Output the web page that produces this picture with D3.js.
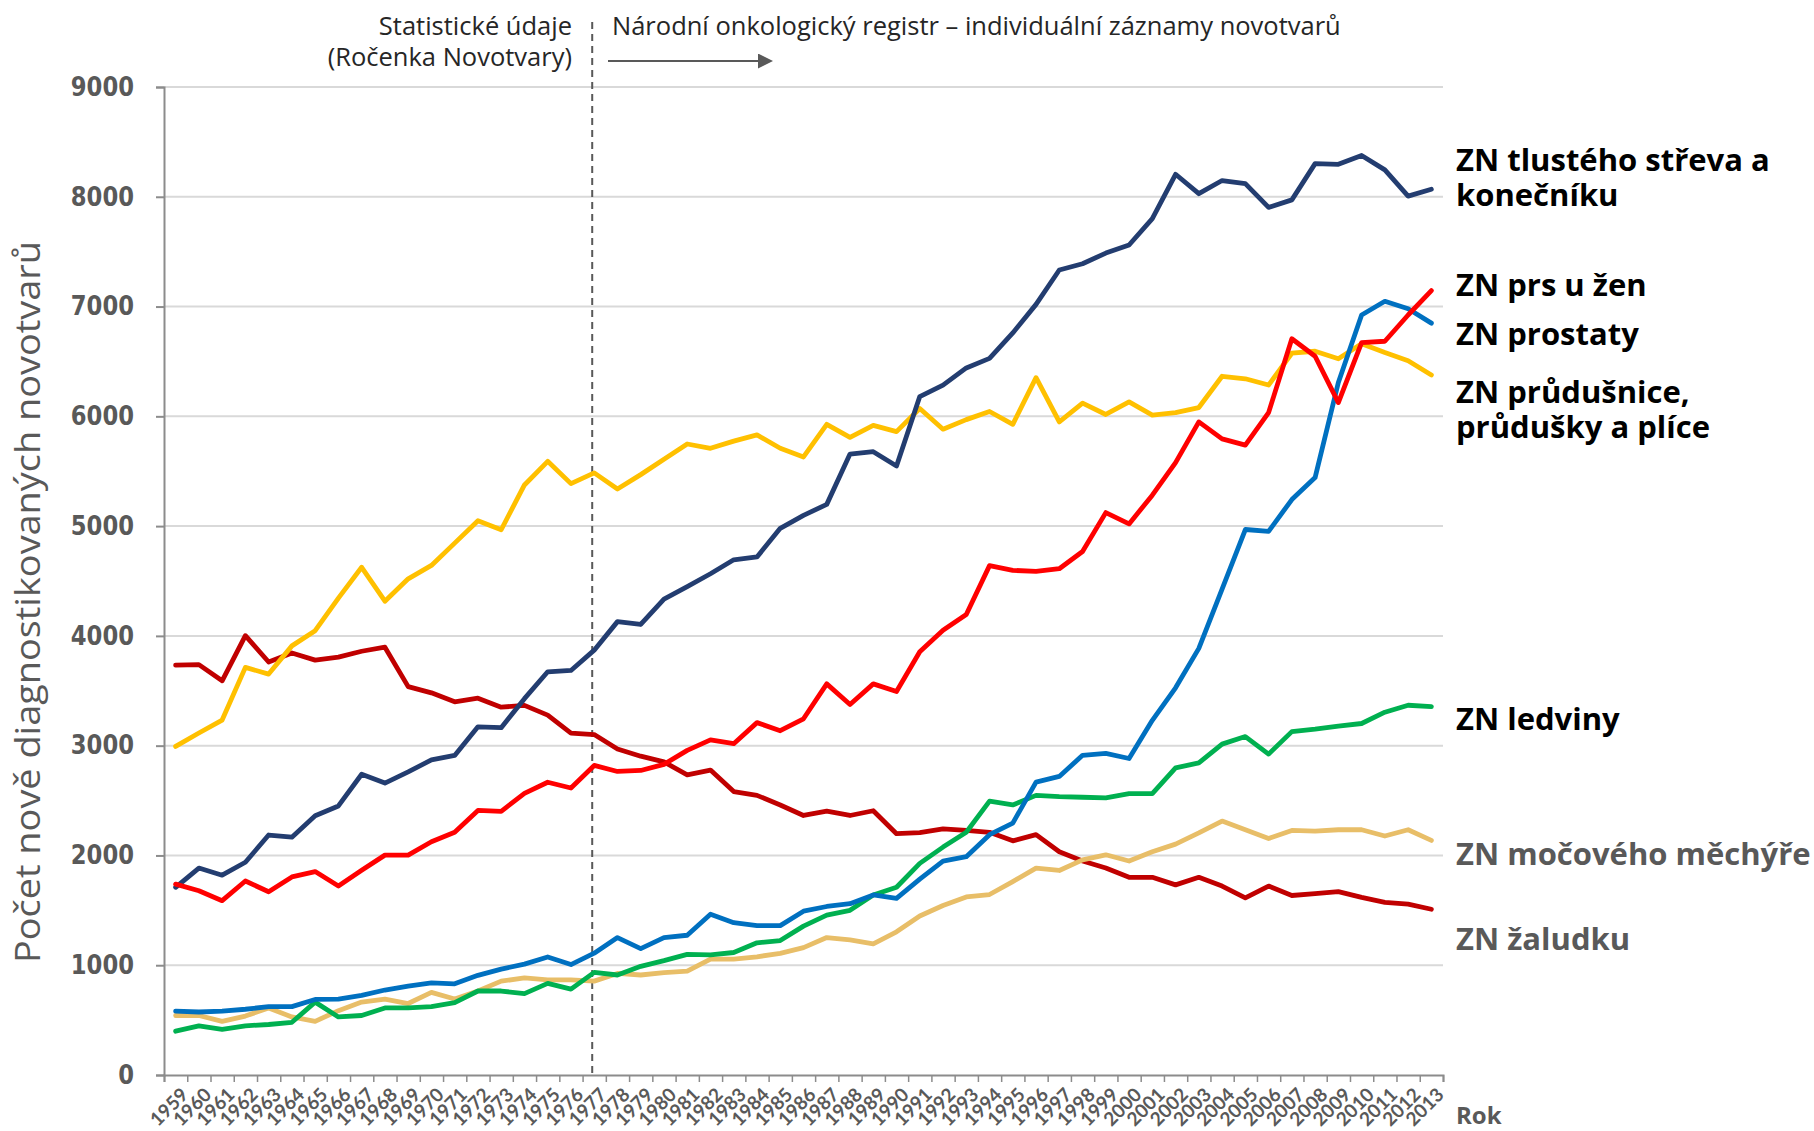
<!DOCTYPE html>
<html>
<head>
<meta charset="utf-8">
<script src="https://cdn.jsdelivr.net/npm/d3@7"></script>
<style>
  body { margin: 0; background: #fff; }
  text { font-family: 'Open Sans', Lato, sans-serif; }
</style>
</head>
<body>
<div id="chart"></div>
<script>
/* global d3 */

// Years on the x axis
const years = d3.range(1959, 2014)

// New cases per year
const colorectal = [1710, 1885, 1820, 1938, 2186, 2166, 2362, 2451, 2740, 2659, 2761, 2870, 2911, 3172, 3164, 3428, 3673, 3685, 3870, 4130, 4104, 4335, 4448, 4566, 4693, 4719, 4980, 5098, 5198, 5656, 5678, 5547, 6180, 6284, 6441, 6528, 6760, 7020, 7333, 7390, 7487, 7561, 7801, 8205, 8028, 8148, 8120, 7903, 7972, 8302, 8296, 8376, 8245, 8006, 8068]
const breast = [1739, 1678, 1588, 1767, 1669, 1804, 1853, 1722, 1865, 2003, 2003, 2125, 2211, 2410, 2402, 2565, 2667, 2614, 2820, 2765, 2774, 2830, 2957, 3053, 3018, 3210, 3136, 3245, 3563, 3375, 3563, 3493, 3855, 4051, 4195, 4640, 4597, 4587, 4612, 4769, 5123, 5020, 5282, 5578, 5949, 5795, 5738, 6034, 6707, 6547, 6125, 6672, 6684, 6923, 7145]
const prostate = [582, 574, 582, 599, 623, 623, 688, 692, 725, 774, 810, 839, 831, 908, 965, 1010, 1075, 1006, 1110, 1252, 1151, 1252, 1273, 1465, 1387, 1361, 1361, 1492, 1535, 1561, 1640, 1609, 1784, 1949, 1989, 2189, 2294, 2668, 2720, 2912, 2929, 2883, 3231, 3527, 3886, 4427, 4969, 4952, 5242, 5442, 6308, 6923, 7048, 6980, 6849]
const lung = [2993, 3115, 3233, 3713, 3652, 3909, 4047, 4344, 4625, 4316, 4520, 4642, 4845, 5049, 4967, 5375, 5590, 5387, 5485, 5338, 5469, 5608, 5748, 5709, 5774, 5831, 5709, 5630, 5927, 5809, 5918, 5861, 6071, 5883, 5970, 6044, 5927, 6352, 5949, 6120, 6017, 6131, 6011, 6034, 6080, 6365, 6342, 6285, 6575, 6593, 6524, 6661, 6581, 6507, 6376]
const kidney = [399, 448, 415, 448, 460, 480, 664, 529, 542, 611, 611, 623, 660, 765, 765, 741, 835, 782, 935, 911, 990, 1042, 1099, 1095, 1116, 1204, 1225, 1356, 1457, 1500, 1640, 1710, 1928, 2076, 2211, 2495, 2460, 2547, 2536, 2530, 2524, 2564, 2564, 2798, 2843, 3014, 3083, 2923, 3128, 3151, 3179, 3202, 3305, 3368, 3356]
const bladder = [542, 542, 489, 537, 611, 529, 489, 586, 664, 692, 651, 753, 692, 765, 855, 884, 867, 867, 855, 925, 911, 933, 946, 1055, 1055, 1077, 1108, 1160, 1252, 1230, 1195, 1304, 1448, 1544, 1622, 1644, 1762, 1885, 1863, 1960, 2006, 1949, 2034, 2103, 2205, 2313, 2234, 2154, 2228, 2222, 2234, 2234, 2177, 2234, 2137]
const stomach = [3734, 3738, 3591, 4002, 3762, 3844, 3779, 3807, 3860, 3897, 3538, 3481, 3400, 3432, 3351, 3367, 3278, 3115, 3101, 2970, 2904, 2852, 2734, 2778, 2582, 2547, 2460, 2364, 2403, 2364, 2407, 2198, 2207, 2242, 2229, 2211, 2133, 2190, 2034, 1949, 1886, 1801, 1801, 1732, 1801, 1721, 1613, 1721, 1635, 1652, 1670, 1618, 1573, 1556, 1510]

// y ticks
const yTicks = [0, 1000, 2000, 3000, 4000, 5000, 6000, 7000, 8000, 9000]

// series in drawing order (bottom first)
const series = [
  { values: stomach, color: '#C00000' },
  { values: bladder, color: '#E8BE68' },
  { values: kidney, color: '#00B050' },
  { values: lung, color: '#FFC000' },
  { values: prostate, color: '#0070C0' },
  { values: colorectal, color: '#233D70' },
  { values: breast, color: '#FF0000' }
]

// labels at the right end
const labels = [
  { lines: ['ZN tlustého střeva a', 'konečníku'], y: 171, color: '#000' },
  { lines: ['ZN prs u žen'], y: 296, color: '#000' },
  { lines: ['ZN prostaty'], y: 345, color: '#000' },
  { lines: ['ZN průdušnice,', 'průdušky a plíce'], y: 403, color: '#000' },
  { lines: ['ZN ledviny'], y: 730, color: '#000' },
  { lines: ['ZN močového měchýře'], y: 865, color: '#595959' },
  { lines: ['ZN žaludku'], y: 950, color: '#595959' }
]

// Our canvas
const width = 1814,
  height = 1131,
  plotLeft = 164,
  plotRight = 1443,
  plotTop = 87,
  plotBottom = 1075

let svg = d3.select('#chart')
  .append('svg')
  .attr('width', width)
  .attr('height', height)

let x = d3.scaleBand()
  .domain(years)
  .range([plotLeft, plotRight])

let xEdge = d3.scaleLinear()
  .domain([0, years.length])
  .range([plotLeft, plotRight])

let y = d3.scaleLinear()
  .domain([0, 9000])
  .range([plotBottom, plotTop])

// gridlines
svg.append('g')
  .selectAll('line')
  .data(yTicks.filter(d => d > 0))
  .enter()
  .append('line')
  .attr('x1', plotLeft)
  .attr('x2', plotRight)
  .attr('y1', d => y(d))
  .attr('y2', d => y(d))
  .attr('stroke', '#D9D9D9')
  .attr('stroke-width', 2)

// y axis
let yAxis = svg.append('g')
  .attr('transform', `translate(${plotLeft},0)`)
  .call(d3.axisLeft(y).tickValues(yTicks).tickSize(8).tickPadding(22).tickFormat(d3.format('d')))
yAxis.select('.domain').attr('stroke', '#8C8C8C').attr('stroke-width', 2)
yAxis.selectAll('.tick line').attr('stroke', '#8C8C8C').attr('stroke-width', 2)
yAxis.selectAll('.tick text')
  .style('font-family', "'DejaVu Sans', Verdana, sans-serif")
  .style('font-weight', 'bold')
  .style('font-size', '26px')
  .attr('textLength', d => String(d).length * 15.8)
  .attr('lengthAdjust', 'spacingAndGlyphs')
  .attr('fill', '#595959')

// x axis: boundary ticks
let xTickAxis = svg.append('g')
  .attr('transform', `translate(0,${plotBottom})`)
  .call(d3.axisBottom(xEdge).tickValues(d3.range(years.length + 1)).tickSize(7).tickFormat(''))
xTickAxis.select('.domain').attr('stroke', '#8C8C8C').attr('stroke-width', 2)
xTickAxis.selectAll('.tick line').attr('stroke', '#8C8C8C').attr('stroke-width', 1.5)

// x axis: rotated year labels
let xLabelAxis = svg.append('g')
  .attr('transform', `translate(${x.bandwidth() / 2},${plotBottom})`)
  .call(d3.axisBottom(x).tickSize(0).tickPadding(0))
xLabelAxis.select('.domain').remove()
xLabelAxis.selectAll('.tick text')
  .attr('transform', 'translate(2,21) rotate(-45)')
  .attr('y', 0)
  .attr('dy', 0)
  .attr('text-anchor', 'end')
  .style('font-family', 'Lato, sans-serif')
  .style('font-size', '19px')
  .style('font-weight', 'bold')
  .attr('fill', '#595959')

// dashed divider at 1977
let xDiv = x(1977) + x.bandwidth() / 2 - 2
svg.append('line')
  .attr('x1', xDiv)
  .attr('x2', xDiv)
  .attr('y1', 22)
  .attr('y2', plotBottom)
  .attr('stroke', '#595959')
  .attr('stroke-width', 2)
  .attr('stroke-dasharray', '7,5')

// lines
let line = d3.line()
  .x((d, i) => x(years[i]) + x.bandwidth() / 2)
  .y(d => y(d))

svg.append('g')
  .selectAll('path')
  .data(series)
  .enter()
  .append('path')
  .attr('d', d => line(d.values))
  .attr('fill', 'none')
  .attr('stroke', d => d.color)
  .attr('stroke-width', 4.8)
  .attr('stroke-linejoin', 'round')
  .attr('stroke-linecap', 'round')

// header texts
svg.append('text')
  .attr('x', 572)
  .attr('y', 35)
  .attr('text-anchor', 'end')
  .style('font-size', '25.5px')
  .attr('fill', '#262626')
  .text('Statistické údaje')
svg.append('text')
  .attr('x', 572)
  .attr('y', 66)
  .attr('text-anchor', 'end')
  .style('font-size', '25.5px')
  .attr('fill', '#262626')
  .text('(Ročenka Novotvary)')
svg.append('text')
  .attr('x', 612)
  .attr('y', 35)
  .style('font-size', '25.5px')
  .attr('fill', '#262626')
  .text('Národní onkologický registr – individuální záznamy novotvarů')

// arrow
svg.append('defs')
  .append('marker')
  .attr('id', 'head')
  .attr('viewBox', '0 0 10 10')
  .attr('refX', 0)
  .attr('refY', 5)
  .attr('markerWidth', 7.5)
  .attr('markerHeight', 7.5)
  .attr('orient', 'auto')
  .append('path')
  .attr('d', 'M0,0L10,5L0,10Z')
  .attr('fill', '#595959')
svg.append('line')
  .attr('x1', 608)
  .attr('x2', 758)
  .attr('y1', 61)
  .attr('y2', 61)
  .attr('stroke', '#595959')
  .attr('stroke-width', 2)
  .attr('marker-end', 'url(#head)')

// y axis title
svg.append('text')
  .attr('transform', 'translate(40,602) rotate(-90)')
  .attr('text-anchor', 'middle')
  .attr('textLength', 722)
  .attr('lengthAdjust', 'spacingAndGlyphs')
  .style('font-size', '35px')
  .attr('fill', '#595959')
  .text('Počet nově diagnostikovaných novotvarů')

// x axis title
svg.append('text')
  .attr('x', 1456)
  .attr('y', 1124)
  .style('font-size', '24px')
  .style('font-weight', 'bold')
  .attr('fill', '#595959')
  .text('Rok')

// series labels
labels.forEach(l => {
  let t = svg.append('text')
    .attr('x', 1456)
    .attr('y', l.y)
    .style('font-size', '31px')
    .style('font-weight', 'bold')
    .attr('fill', l.color)
  l.lines.forEach((s, i) => {
    t.append('tspan')
      .attr('x', 1456)
      .attr('dy', i === 0 ? 0 : 35)
      .text(s)
  })
})
</script>
</body>
</html>
